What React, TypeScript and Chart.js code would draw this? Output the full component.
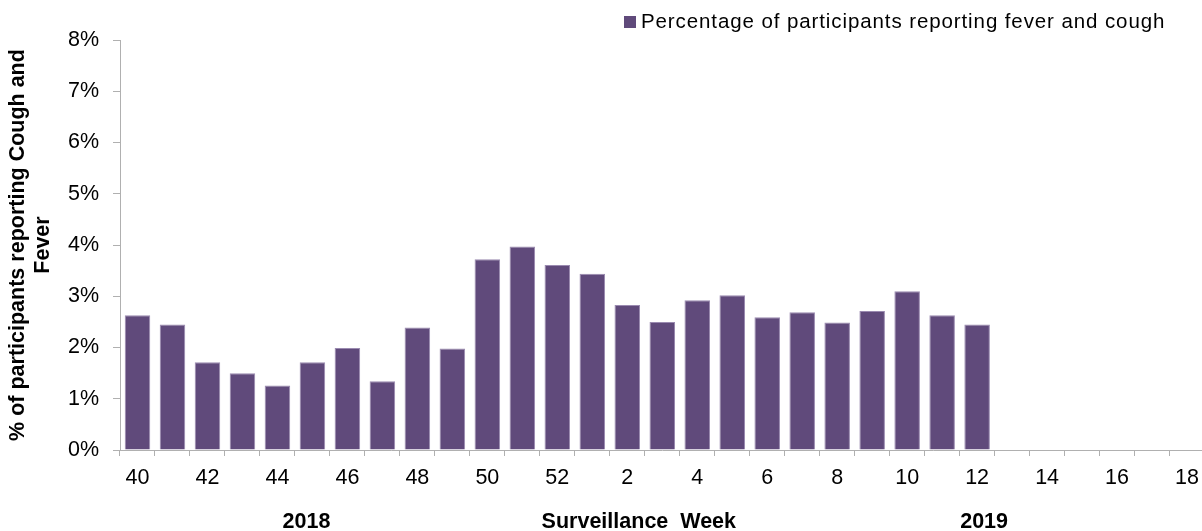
import React, { useEffect, useRef } from 'react';
import { Chart, registerables } from 'chart.js';

Chart.register(...registerables);

const weeks = ['40', '41', '42', '43', '44', '45', '46', '47', '48', '49', '50', '51', '52',
  '1', '2', '3', '4', '5', '6', '7', '8', '9', '10', '11', '12', '13', '14', '15', '16', '17', '18'];

const feverCough = [2.63, 2.45, 1.71, 1.50, 1.26, 1.71, 1.99, 1.34, 2.39, 1.98, 3.72, 3.97, 3.61,
  3.44, 2.83, 2.50, 2.92, 3.02, 2.59, 2.69, 2.49, 2.71, 3.10, 2.63, 2.45, null, null, null, null, null, null];

const seriesLabel = 'Percentage of participants reporting fever and cough';
const yAxisTitle = ['% of participants reporting Cough and', 'Fever'];
const xAxisTitle = 'Surveillance  Week';
const yearLabels = ['2018', '2019'];
const yMin = 0;
const yMax = 8;
const yStep = 1;

const FONT = '"Liberation Sans", Arial, sans-serif';
const BAR = '#604a7b';
const AXIS = '#b0b0b0';

export default function App() {
  const ref = useRef<HTMLCanvasElement>(null);

  useEffect(() => {
    if (!ref.current) return;

    const legendPlugin = {
      id: 'customLegend',
      afterDraw(chart: any) {
        const ctx = chart.ctx;
        const ds = chart.data.datasets[0];
        ctx.save();
        ctx.fillStyle = ds.backgroundColor;
        ctx.fillRect(624, 16, 12, 12);
        ctx.font = `20.5px ${FONT}`;
        (ctx as any).letterSpacing = '0.9px';
        ctx.fillStyle = '#000';
        ctx.textAlign = 'left';
        ctx.textBaseline = 'alphabetic';
        ctx.fillText(ds.label, 641, 27.5);
        ctx.restore();
      },
    };

    const bottomLabels = {
      id: 'bottomLabels',
      afterDraw(chart: any) {
        const ctx = chart.ctx;
        const xs = chart.scales.x;
        const cw = xs.width / weeks.length;
        const at = (pos: number) => xs.left + (pos + 0.5) * cw;
        ctx.save();
        ctx.font = `bold 21.5px ${FONT}`;
        ctx.fillStyle = '#000';
        ctx.textAlign = 'center';
        ctx.textBaseline = 'alphabetic';
        ctx.fillText(yearLabels[0], at(4.83), 528);
        ctx.fillText(xAxisTitle, at(14.33), 528);
        ctx.fillText(yearLabels[1], at(24.2), 528);
        ctx.restore();
      },
    };

    const chart = new Chart(ref.current, {
      type: 'bar',
      data: {
        labels: weeks,
        datasets: [
          {
            label: seriesLabel,
            data: feverCough,
            backgroundColor: BAR,
            borderColor: '#9a8ab0',
            borderWidth: 1,
            barPercentage: 0.73,
            categoryPercentage: 1,
          },
        ],
      },
      options: {
        animation: false,
        responsive: false,
        layout: { padding: { top: 40, right: 1, left: 0, bottom: 0 } },
        plugins: {
          legend: { display: false },
          tooltip: { enabled: false },
        },
        scales: {
          x: {
            type: 'category',
            offset: true,
            afterFit: (s: any) => { s.height = 81; },
            grid: {
              offset: true,
              drawOnChartArea: false,
              drawTicks: true,
              tickLength: 6,
              color: AXIS,
            },
            border: { display: true, color: AXIS, width: 1 },
            ticks: {
              autoSkip: false,
              maxRotation: 0,
              minRotation: 0,
              padding: 9,
              color: '#000',
              font: { family: FONT, size: 21.5 },
              callback: (_v: any, i: number) => (i % 2 === 0 ? weeks[i] : ''),
            },
          },
          y: {
            min: yMin,
            max: yMax,
            afterFit: (s: any) => { s.width = 120; },
            grid: {
              drawOnChartArea: false,
              drawTicks: true,
              tickLength: 7,
              color: AXIS,
            },
            border: { display: true, color: AXIS, width: 1 },
            ticks: {
              stepSize: yStep,
              padding: 14,
              color: '#000',
              font: { family: FONT, size: 21.5 },
              callback: (v: any) => `${v}%`,
            },
            title: {
              display: true,
              text: yAxisTitle,
              color: '#000',
              font: { family: FONT, size: 21.5, weight: 'bold', lineHeight: 1.14 },
              padding: { top: 6, bottom: 0 },
            },
          },
        },
      },
      plugins: [legendPlugin, bottomLabels],
    } as any);

    return () => chart.destroy();
  }, []);

  return (
    <div style={{ position: 'fixed', left: 0, top: 0, width: 1202, height: 531, overflow: 'hidden', background: '#fff' }}>
      <canvas ref={ref} width={1208} height={531} style={{ display: 'block' }} />
    </div>
  );
}
